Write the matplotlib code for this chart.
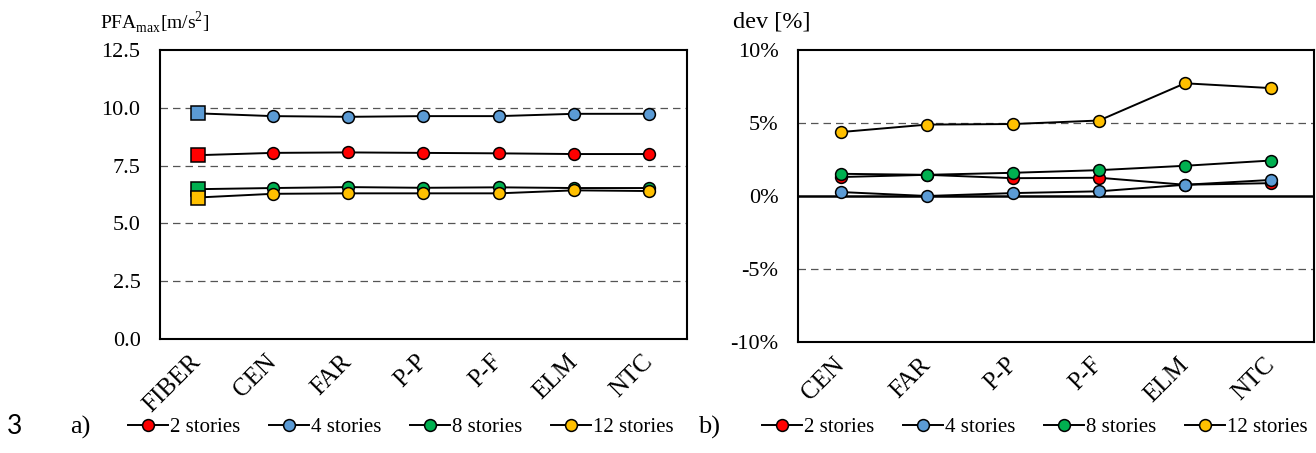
import matplotlib
matplotlib.use("Agg")
import matplotlib.pyplot as plt
from matplotlib.lines import Line2D

plt.rcParams['font.family'] = ['Liberation Serif', 'DejaVu Serif']
plt.rcParams['mathtext.fontset'] = 'custom'
plt.rcParams['mathtext.rm'] = 'Liberation Serif'

# data
models_a = ["FIBER", "CEN", "FAR", "P-P", "P-F", "ELM", "NTC"]
models_b = ["CEN", "FAR", "P-P", "P-F", "ELM", "NTC"]
series = ["2 stories", "4 stories", "8 stories", "12 stories"]
colors = ["#FF0000", "#5B9BD5", "#00B050", "#FFC000"]

pfa_2 = [7.95, 8.05, 8.07, 8.05, 8.03, 8.00, 8.00]
pfa_4 = [9.76, 9.64, 9.61, 9.64, 9.64, 9.74, 9.74]
pfa_8 = [6.48, 6.53, 6.57, 6.54, 6.56, 6.53, 6.53]
pfa_12 = [6.12, 6.28, 6.30, 6.30, 6.30, 6.43, 6.40]

dev_2 = [1.30, 1.45, 1.22, 1.25, 0.77, 0.88]
dev_4 = [0.27, 0.00, 0.20, 0.32, 0.77, 1.10]
dev_8 = [1.52, 1.45, 1.59, 1.77, 2.07, 2.43]
dev_12 = [4.38, 4.89, 4.93, 5.17, 7.72, 7.39]

pfa = [pfa_2, pfa_4, pfa_8, pfa_12]
dev = [dev_2, dev_4, dev_8, dev_12]

W, H = 1316, 453
fig = plt.figure(figsize=(W / 100, H / 100), dpi=100)

ax1 = fig.add_axes([160 / W, 1 - 339 / H, (687 - 160) / W, (339 - 50) / H])
ax2 = fig.add_axes([798 / W, 1 - 342 / H, (1314 - 798) / W, (342 - 50) / H])

msize = 8.5
for vals, c in zip(pfa, colors):
    x = list(range(len(models_a)))
    ax1.plot(x, vals, color="black", lw=1.4, zorder=3)
    ax1.plot(x[1:], vals[1:], "o", ms=msize, mfc=c, mec="black", mew=1.1, zorder=4)
    ax1.plot(x[:1], vals[:1], "s", ms=10, mfc=c, mec="black", mew=1.1, zorder=4)

for vals, c in zip(dev, colors):
    x = list(range(len(models_b)))
    ax2.plot(x, vals, color="black", lw=1.4, marker="o", ms=msize,
             mfc=c, mec="black", mew=1.1, zorder=4)

ax1.set_xlim(-0.5, 6.5)
ax1.set_ylim(0, 12.5)
ax1.set_yticks([0, 2.5, 5, 7.5, 10, 12.5])
ax1.set_yticklabels(["0.0", "2.5", "5.0", "7.5", "10.0", "12.5"])
for g in [2.5, 5, 7.5, 10]:
    ax1.axhline(g, color="#555555", ls=(0, (6, 4)), lw=0.9, zorder=1)
ax1.set_xticks(range(len(models_a)))
ax1.set_xticklabels(models_a)

ax2.set_xlim(-0.5, 5.5)
ax2.set_ylim(-10, 10)
ax2.set_yticks([-10, -5, 0, 5, 10])
ax2.set_yticklabels(["-10%", "-5%", "0%", "5%", "10%"])
for g in [-5, 5]:
    ax2.axhline(g, color="#555555", ls=(0, (6, 4)), lw=0.9, zorder=1)
ax2.axhline(0, color="black", lw=1.8, zorder=2)
ax2.set_xticks(range(len(models_b)))
ax2.set_xticklabels(models_b)

for ax in (ax1, ax2):
    ax.tick_params(length=0)
    ax.tick_params(axis="y", labelsize=16, pad=14)
    ax.tick_params(axis="x", labelsize=18, pad=14)
    for lab in ax.get_xticklabels():
        lab.set_rotation(45)
        lab.set_ha("right")
        lab.set_va("center")
        lab.set_rotation_mode("anchor")
    for s in ax.spines.values():
        s.set_linewidth(1.5)

fig.text(100 / W, 1 - 22 / H, r"PFA$_\mathregular{max}$[m/s$^\mathregular{2}$]",
         fontsize=14, va="center", ha="left")
fig.text(733 / W, 1 - 22 / H, "dev [%]", fontsize=17.5, va="center", ha="left")

fig.text(7 / W, 1 - 427 / H, "3", fontsize=19, family="Lato", va="center", ha="left")
fig.text(70 / W, 1 - 427 / H, "a)", fontsize=19, va="center", ha="left")
fig.text(698 / W, 1 - 427 / H, "b)", fontsize=19, va="center", ha="left")

handles = [Line2D([0], [0], color="black", lw=1.4, marker="o", ms=msize,
                  mfc=c, mec="black", mew=1.1) for c in colors]
for x0 in (128, 762):
    fig.legend(handles, series, loc="center left", ncol=4, frameon=False,
               bbox_to_anchor=(x0 / W, 1 - 427 / H), fontsize=15,
               handlelength=1.9, handletextpad=0.1, columnspacing=1.4,
               borderaxespad=0, borderpad=0)

fig.savefig("out.png", dpi=100)
